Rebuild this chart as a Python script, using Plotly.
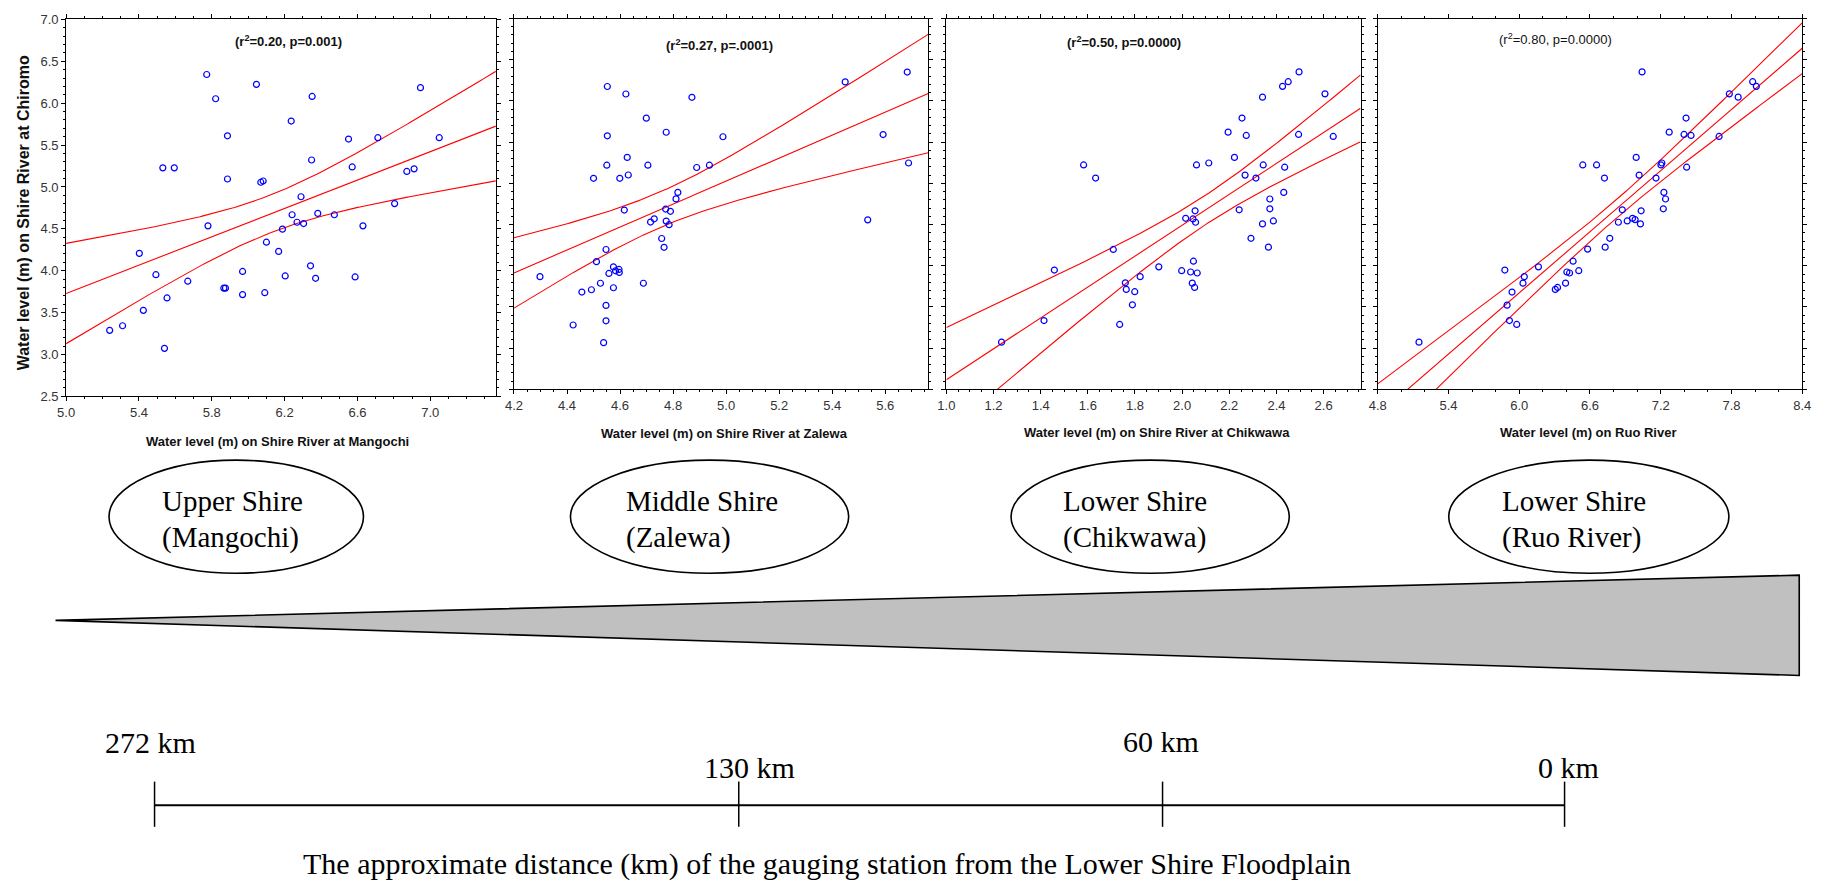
import numpy as np
import plotly.graph_objects as go

W, H = 1832, 882


def px(x):
    return x / W


def py(y):
    return 1 - y / H


# ---------------- data ----------------
x_mangochi = [5.239, 5.310, 5.402, 5.424, 5.493, 5.531, 5.540, 5.554, 5.594, 5.668,
              5.772, 5.779, 5.821, 5.866, 5.875, 5.886, 5.886, 5.969, 5.969, 6.045,
              6.069, 6.082, 6.091, 6.100, 6.167, 6.188, 6.203, 6.236, 6.241, 6.268,
              6.290, 6.304, 6.342, 6.348, 6.351, 6.370, 6.382, 6.473, 6.551, 6.571,
              6.587, 6.630, 6.712, 6.804, 6.871, 6.911, 6.946, 7.049]
y_mangochi = [3.287, 3.342, 4.207, 3.526, 3.952, 5.228, 3.072, 3.674, 5.228, 3.874,
              6.343, 4.535, 6.053, 3.792, 3.792, 5.611, 5.095, 3.991, 3.714, 6.225,
              5.056, 5.071, 3.737, 4.340, 4.230, 4.496, 3.937, 5.787, 4.668, 4.578,
              4.883, 4.563, 4.058, 5.322, 6.081, 3.909, 4.684, 4.668, 5.572, 5.239,
              3.925, 4.535, 5.588, 4.801, 5.185, 5.216, 6.186, 5.588]

x_zalewa = [4.298, 4.423, 4.456, 4.492, 4.500, 4.511, 4.526, 4.538, 4.547, 4.547,
            4.547, 4.550, 4.552, 4.552, 4.558, 4.575, 4.575, 4.583, 4.596, 4.597,
            4.599, 4.616, 4.622, 4.627, 4.631, 4.688, 4.699, 4.705, 4.715, 4.729,
            4.757, 4.766, 4.772, 4.774, 4.774, 4.785, 4.790, 4.811, 4.818, 4.871,
            4.889, 4.937, 4.988, 5.449, 5.534, 5.592, 5.683, 5.688]
y_zalewa = [3.868, 3.281, 3.681, 3.709, 5.061, 4.050, 3.788, 3.067, 4.197, 3.519,
            3.332, 5.220, 6.175, 5.577, 3.907, 3.986, 3.733, 3.939, 3.955, 3.919,
            5.061, 4.676, 6.084, 5.315, 5.101, 3.788, 5.791, 5.220, 4.530, 4.570,
            4.331, 4.224, 4.688, 5.620, 4.542, 4.498, 4.661, 4.811, 4.890, 6.044,
            5.192, 5.220, 5.565, 6.231, 4.557, 5.592, 6.350, 5.247]

x_chikwawa = [1.234, 1.414, 1.458, 1.582, 1.633, 1.708, 1.735, 1.759, 1.763, 1.789,
              1.799, 1.822, 1.901, 1.998, 2.015, 2.036, 2.043, 2.046, 2.048, 2.053,
              2.055, 2.057, 2.061, 2.064, 2.113, 2.195, 2.222, 2.242, 2.254, 2.267,
              2.272, 2.292, 2.313, 2.341, 2.341, 2.344, 2.366, 2.372, 2.372, 2.387,
              2.426, 2.431, 2.435, 2.450, 2.494, 2.496, 2.606, 2.641]
y_chikwawa = [3.073, 3.335, 3.948, 5.223, 5.064, 4.198, 3.288, 3.793, 3.713, 3.526,
              3.685, 3.868, 3.987, 3.940, 4.576, 3.924, 3.789, 4.568, 4.055, 3.737,
              4.667, 4.528, 5.223, 3.912, 5.247, 5.621, 5.315, 4.679, 5.792, 5.100,
              5.581, 4.333, 5.064, 6.046, 4.508, 5.223, 4.226, 4.810, 4.691, 4.544,
              6.177, 4.890, 5.196, 6.233, 5.593, 6.352, 6.086, 5.569]

x_ruo = [5.150, 5.878, 5.897, 5.917, 5.939, 5.979, 6.032, 6.043, 6.163, 6.306,
         6.325, 6.393, 6.404, 6.427, 6.457, 6.505, 6.539, 6.580, 6.656, 6.723,
         6.729, 6.768, 6.841, 6.874, 6.916, 6.961, 6.983, 6.992, 7.017, 7.028,
         7.034, 7.042, 7.160, 7.202, 7.210, 7.222, 7.227, 7.241, 7.272, 7.398,
         7.415, 7.420, 7.457, 7.695, 7.782, 7.857, 7.980, 8.011]
y_ruo = [3.073, 3.948, 3.522, 3.335, 3.681, 3.288, 3.789, 3.868, 3.987, 3.713,
         3.737, 3.789, 3.924, 3.912, 4.055, 3.940, 5.223, 4.202, 5.223, 5.064,
         4.226, 4.333, 4.528, 4.679, 4.544, 4.576, 4.560, 5.315, 5.100, 4.508,
         4.667, 6.352, 5.064, 5.223, 5.247, 4.691, 4.890, 4.810, 5.621, 5.593,
         5.792, 5.196, 5.581, 5.569, 6.086, 6.046, 6.233, 6.177]

stats_labels = ["(r<sup>2</sup>=0.20, p=0.001)", "(r<sup>2</sup>=0.27, p=.0001)",
                "(r<sup>2</sup>=0.50, p=0.0000)", "(r<sup>2</sup>=0.80, p=0.0000)"]
x_titles = ["Water level (m) on Shire River at Mangochi",
            "Water level (m) on Shire River at Zalewa",
            "Water level (m) on Shire River at Chikwawa",
            "Water level (m) on Ruo River"]
y_title = "Water level (m) on Shire River at Chiromo"
region_line1 = ["Upper Shire", "Middle Shire", "Lower Shire", "Lower Shire"]
region_line2 = ["(Mangochi)", "(Zalewa)", "(Chikwawa)", "(Ruo River)"]
distance_labels = ["272 km", "130 km", "60 km", "0 km"]
caption = "The approximate distance (km) of the gauging station from the Lower Shire Floodplain"

# ---------------- layout geometry (pixels) ----------------
panels = [
    dict(x=x_mangochi, y=y_mangochi, xd=(57.7, 491.7), yd=(12.7, 396.0), xr=[5.0, 7.36], dt=0.4,
         title_xy=(271, 442), stat_xy=(282, 35), bold=True),
    dict(x=x_zalewa, y=y_zalewa, xd=(510.0, 928.3), yd=(11.7, 389.0), xr=[4.2, 5.762], dt=0.2,
         title_xy=(723, 434), stat_xy=(718, 39), bold=True),
    dict(x=x_chikwawa, y=y_chikwawa, xd=(946.7, 1365.0), yd=(11.7, 389.0), xr=[1.0, 2.757], dt=0.2,
         title_xy=(1159, 433), stat_xy=(1126, 36), bold=True),
    dict(x=x_ruo, y=y_ruo, xd=(1382.3, 1811.0), yd=(11.7, 389.0), xr=[4.8, 8.4], dt=0.6,
         title_xy=(1595, 433), stat_xy=(1562, 33), bold=False),
]

NARROW = "Liberation Sans Narrow, Arial Narrow, Liberation Sans, Arial, sans-serif"
SERIF = "Liberation Serif, Times New Roman, serif"

fig = go.Figure()
annotations = []
shapes = []
layout_axes = {}

for i, p in enumerate(panels):
    n = i + 1
    xa = "x" if n == 1 else f"x{n}"
    ya = "y" if n == 1 else f"y{n}"
    x = np.array(p["x"])
    y = np.array(p["y"])
    # OLS fit with 95% confidence band of the mean
    b, a = np.polyfit(x, y, 1)
    resid = y - (a + b * x)
    nn = len(x)
    s = np.sqrt(np.sum(resid ** 2) / (nn - 2))
    sxx = np.sum((x - x.mean()) ** 2)
    xg = np.linspace(p["xr"][0], p["xr"][1], 200)
    yg = a + b * xg
    se = s * np.sqrt(1 / nn + (xg - x.mean()) ** 2 / sxx)
    t = 2.013
    for yy in (yg + t * se, yg, yg - t * se):
        fig.add_trace(go.Scatter(x=xg, y=yy, mode="lines", xaxis=xa, yaxis=ya,
                                 line=dict(color="#ff0000", width=1.1),
                                 hoverinfo="skip", showlegend=False))
    fig.add_trace(go.Scatter(x=x, y=y, mode="markers", xaxis=xa, yaxis=ya,
                             marker=dict(symbol="circle-open", size=6, color="#0000ff",
                                         line=dict(width=1.2, color="#0000ff")),
                             showlegend=False))
    axcommon = dict(showline=True, linecolor="black", linewidth=1, mirror="allticks",
                    ticks="outside", ticklen=4, tickcolor="black", tickwidth=1,
                    showgrid=False, zeroline=False,
                    tickfont=dict(family=NARROW, size=13, color="#333"),
                    minor=dict(ticks="outside", ticklen=2, tickcolor="black", showgrid=False))
    xkey = "xaxis" if n == 1 else f"xaxis{n}"
    ykey = "yaxis" if n == 1 else f"yaxis{n}"
    layout_axes[xkey] = dict(axcommon, domain=[px(p["xd"][0]), px(p["xd"][1])],
                             range=p["xr"], dtick=p["dt"], tick0=p["xr"][0],
                             tickformat=".1f", anchor=ya)
    layout_axes[ykey] = dict(axcommon, domain=[py(p["yd"][1]), py(p["yd"][0])],
                             range=[2.5, 7.0], dtick=0.5, tickformat=".1f",
                             showticklabels=(n == 1), anchor=xa)
    annotations.append(dict(text=x_titles[i], xref="paper", yref="paper",
                            x=px(p["title_xy"][0]), y=py(p["title_xy"][1]),
                            xanchor="center", yanchor="middle", showarrow=False,
                            font=dict(family=NARROW, size=13, color="#111", weight="bold")))
    annotations.append(dict(text=stats_labels[i], xref="paper", yref="paper",
                            x=px(p["stat_xy"][0]), y=py(p["stat_xy"][1]),
                            xanchor="center", yanchor="middle", showarrow=False,
                            font=dict(family=NARROW, size=13, color="#111",
                                      weight="bold" if p["bold"] else "normal")))

annotations.append(dict(text=y_title, xref="paper", yref="paper", x=px(15), y=py(209),
                        xanchor="center", yanchor="middle", textangle=-90, showarrow=False,
                        font=dict(family="Liberation Sans, Arial, sans-serif", size=16,
                                  color="#111", weight="bold")))

# ---------------- lower schematic ----------------
ellipses = [(101, 358), (567, 848), (1012, 1293), (1454, 1737)]
text_left = [152, 621, 1062, 1506]
for (e0, e1), tl, l1, l2 in zip(ellipses, text_left, region_line1, region_line2):
    shapes.append(dict(type="circle", xref="paper", yref="paper",
                       x0=px(e0), x1=px(e1), y0=py(576), y1=py(461),
                       line=dict(color="black", width=1.6), fillcolor="white"))
    annotations.append(dict(text=l1, xref="paper", yref="paper", x=px(tl), y=py(503),
                            xanchor="left", yanchor="middle", showarrow=False,
                            font=dict(family=SERIF, size=29, color="black")))
    annotations.append(dict(text=l2, xref="paper", yref="paper", x=px(tl), y=py(540),
                            xanchor="left", yanchor="middle", showarrow=False,
                            font=dict(family=SERIF, size=29, color="black")))

shapes.append(dict(type="path", xref="paper", yref="paper",
                   path=f"M {px(47)},{py(624)} L {px(1808)},{py(578)} L {px(1808)},{py(680)} Z",
                   fillcolor="#c0c0c0", line=dict(color="black", width=1.6)))

bar_y = 812
tick_x = [147, 737, 1165, 1571]
shapes.append(dict(type="line", xref="paper", yref="paper", x0=px(tick_x[0]), x1=px(tick_x[-1]),
                   y0=py(bar_y), y1=py(bar_y), line=dict(color="black", width=2)))
for tx in tick_x:
    shapes.append(dict(type="line", xref="paper", yref="paper", x0=px(tx), x1=px(tx),
                       y0=py(788), y1=py(834), line=dict(color="black", width=1.5)))

label_pos = [(143, 748), (748, 774), (1163, 747), (1575, 774)]
for lab, (lx, ly) in zip(distance_labels, label_pos):
    annotations.append(dict(text=lab, xref="paper", yref="paper", x=px(lx), y=py(ly),
                            xanchor="center", yanchor="middle", showarrow=False,
                            font=dict(family=SERIF, size=30, color="black")))

annotations.append(dict(text=caption, xref="paper", yref="paper", x=px(826), y=py(872),
                        xanchor="center", yanchor="middle", showarrow=False,
                        font=dict(family=SERIF, size=30, color="black")))

fig.update_layout(width=W, height=H, margin=dict(l=0, r=0, t=0, b=0),
                  paper_bgcolor="white", plot_bgcolor="white", showlegend=False,
                  annotations=annotations, shapes=shapes, **layout_axes)

fig.write_html("out.html")
